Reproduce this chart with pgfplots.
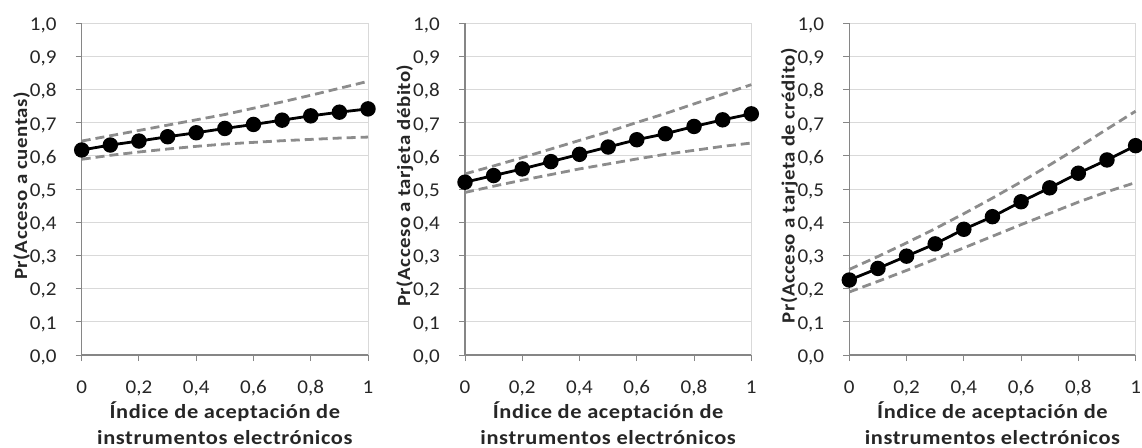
\documentclass[border=0pt]{standalone}
\usepackage{pgfplots}
\pgfplotsset{compat=1.18}
\usepackage{fontspec}
\setmainfont{Carlito}[FakeStretch=1.08, BoldFeatures={FakeStretch=1.12, LetterSpace=3}]
\definecolor{gridc}{HTML}{D9D9D9}
\definecolor{axc}{HTML}{868686}
\definecolor{cic}{HTML}{8C8C8C}
\pgfplotsset{
 panel/.style={
  scale only axis, width=286.3bp, height=331.7bp,
  xmin=0,xmax=1,ymin=0,ymax=1,
  axis x line*=bottom, axis y line*=left,
  axis line style={axc, line width=1.2bp},
  xtick={0,0.2,0.4,0.6,0.8,1},
  ytick={0,0.1,0.2,0.3,0.4,0.5,0.6,0.7,0.8,0.9,1},
  xticklabels={0,{0,2},{0,4},{0,6},{0,8},1},
  yticklabels={{0,0},{0,1},{0,2},{0,3},{0,4},{0,5},{0,6},{0,7},{0,8},{0,9},{1,0}},
  ymajorgrids, grid style={gridc, line width=1bp},
  tick align=outside, major tick length=6bp,
  tick style={axc, line width=1bp},
  xticklabel style={font=\fontsize{19.5bp}{24bp}\selectfont, color=black!85, anchor=base, inner sep=0pt, yshift=-32.5bp},
  yticklabel style={font=\fontsize{19.5bp}{24bp}\selectfont, color=black!85, anchor=base east, inner sep=0pt, xshift=-19bp, yshift=-7.3bp},
  xlabel style={font=\bfseries\fontsize{20bp}{26bp}\selectfont, color=black!85, at={(axis description cs:0.5,0)}, anchor=south, inner sep=0pt, yshift=-90bp, align=center},
  ylabel style={font=\bfseries\fontsize{18.6bp}{22bp}\selectfont, color=black!85, at={(axis description cs:-0.21,0.51)}, anchor=center, inner sep=0pt},
  xlabel={Índice de aceptación de\\instrumentos electrónicos},
  clip=false,
 },
 mean/.style={black, line width=2.8bp, mark=*, mark size=6.3bp, mark options={solid, fill=black}},
 ci/.style={cic, line width=2.8bp, dash pattern=on 9bp off 5bp, no marks},
}
\pgfplotstableread{
x     m     u     l
0.0 0.618 0.645 0.590
0.1 0.633 0.661 0.602
0.2 0.645 0.677 0.612
0.3 0.658 0.693 0.621
0.4 0.670 0.709 0.629
0.5 0.683 0.725 0.636
0.6 0.695 0.744 0.641
0.7 0.708 0.763 0.646
0.8 0.721 0.783 0.650
0.9 0.732 0.804 0.654
1.0 0.742 0.825 0.657
}\tA
\pgfplotstableread{
x     m     u     l
0.0 0.521 0.546 0.490
0.1 0.541 0.570 0.509
0.2 0.561 0.595 0.527
0.3 0.583 0.621 0.544
0.4 0.605 0.647 0.561
0.5 0.627 0.673 0.576
0.6 0.649 0.701 0.591
0.7 0.667 0.728 0.605
0.8 0.689 0.757 0.617
0.9 0.709 0.786 0.629
1.0 0.727 0.815 0.639
}\tB
\pgfplotstableread{
x     m     u     l
0.0 0.226 0.258 0.190
0.1 0.261 0.297 0.222
0.2 0.298 0.338 0.255
0.3 0.335 0.381 0.289
0.4 0.379 0.426 0.323
0.5 0.417 0.473 0.358
0.6 0.462 0.522 0.393
0.7 0.504 0.573 0.427
0.8 0.548 0.626 0.461
0.9 0.588 0.681 0.492
1.0 0.631 0.735 0.520
}\tC
\begin{document}
\begin{tikzpicture}
\useasboundingbox (0,-93bp) rectangle (1142bp,355bp);
\begin{axis}[panel, at={(81.7bp,0)}, anchor=origin, ylabel={Pr(Acceso a cuentas)}]
\draw[gridc, line width=1bp] (axis cs:1,0) -- (axis cs:1,1);
\addplot[ci] table[x=x,y=u]{\tA};
\addplot[ci] table[x=x,y=l]{\tA};
\addplot[mean] table[x=x,y=m]{\tA};
\end{axis}
\begin{axis}[panel, at={(465bp,0)}, anchor=origin, ylabel={Pr(Acceso a tarjeta débito)}]
\draw[gridc, line width=1bp] (axis cs:1,0) -- (axis cs:1,1);
\addplot[ci] table[x=x,y=u]{\tB};
\addplot[ci] table[x=x,y=l]{\tB};
\addplot[mean] table[x=x,y=m]{\tB};
\end{axis}
\begin{axis}[panel, at={(849.3bp,0)}, anchor=origin, ylabel={Pr(Acceso a tarjeta de crédito)}]
\draw[gridc, line width=1bp] (axis cs:1,0) -- (axis cs:1,1);
\addplot[ci] table[x=x,y=u]{\tC};
\addplot[ci] table[x=x,y=l]{\tC};
\addplot[mean] table[x=x,y=m]{\tC};
\end{axis}
\end{tikzpicture}
\end{document}
